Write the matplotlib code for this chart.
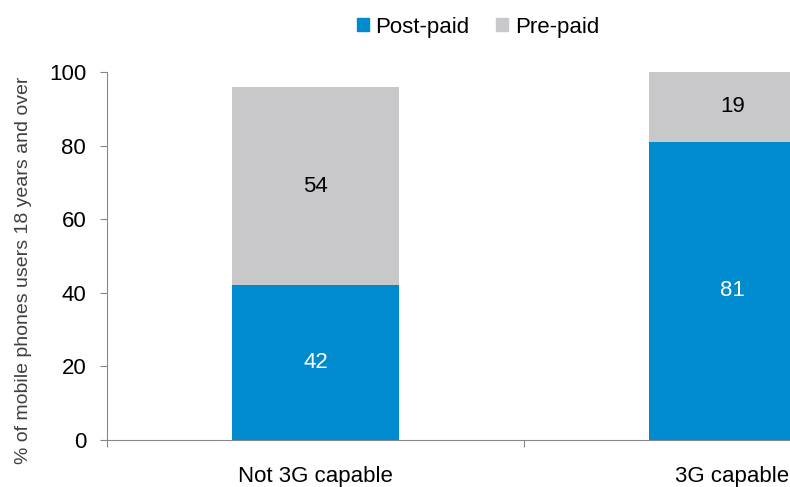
import matplotlib.pyplot as plt
from matplotlib.patches import Patch

plt.rcParams['font.family'] = ['Liberation Sans', 'DejaVu Sans']

categories = ['Not 3G capable', '3G capable']
post_paid = [42, 81]
pre_paid = [54, 19]

blue = '#008BCE'
grey = '#C8C8CA'

fig = plt.figure(figsize=(7.9, 4.87), dpi=100)
# the plot area runs past the right edge of the figure, so the second bar is cut off
ax = fig.add_axes([107 / 790, 47 / 487, 834 / 790, 368 / 487])

x = range(len(categories))
ax.bar(x, post_paid, width=0.4, color=blue)
ax.bar(x, pre_paid, width=0.4, bottom=post_paid, color=grey)

for i in x:
    ax.text(i, post_paid[i] / 2, str(post_paid[i]), ha='center', va='center',
            color='white', fontsize=16)
    ax.text(i, post_paid[i] + pre_paid[i] / 2, str(pre_paid[i]), ha='center',
            va='center', color='black', fontsize=16)

ax.set_xlim(-0.5, 1.5)
ax.set_ylim(0, 100)
ax.set_yticks(range(0, 101, 20))
ax.set_xticks([-0.5, 0.5, 1.5], minor=False)
ax.set_xticklabels([])
ax.set_xticks([0, 1], minor=True)
ax.set_xticklabels(categories, minor=True)
ax.tick_params(axis='x', which='minor', length=0, pad=19, labelsize=16)
ax.tick_params(axis='x', which='major', length=5, color='#888888')
ax.tick_params(axis='y', length=5, color='#888888', labelsize=16, pad=10)

for side in ['top', 'right']:
    ax.spines[side].set_visible(False)
for side in ['left', 'bottom']:
    ax.spines[side].set_color('#888888')

ax.set_ylabel('% of mobile phones users 18 years and over', fontsize=14,
              color='#404040', labelpad=12)
ax.yaxis.label.set_y(0.46)

handles = [Patch(color=blue, label='Post-paid'), Patch(color=grey, label='Pre-paid')]
fig.legend(handles=handles, loc='center', bbox_to_anchor=(478 / 790, 1 - 27 / 487),
           ncol=2, frameon=False, fontsize=16, handlelength=0.55, handleheight=0.55,
           handletextpad=0.3, columnspacing=1.2)

fig.savefig('out.png', dpi=100)
